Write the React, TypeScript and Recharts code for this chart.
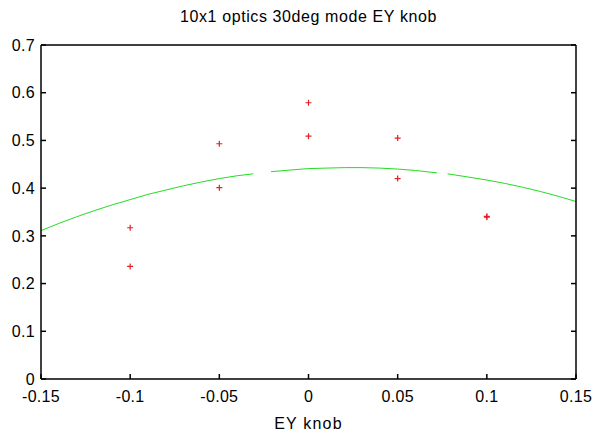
import React from 'react';
import { ComposedChart, Line, Scatter, XAxis, YAxis } from 'recharts';

// axis ticks
const xTicks = [-0.15, -0.1, -0.05, 0, 0.05, 0.1, 0.15];
const yTicks = [0, 0.1, 0.2, 0.3, 0.4, 0.5, 0.6, 0.7];

// measured points (red crosses)
const knobX = [-0.1, -0.1, -0.05, -0.05, 0, 0, 0.05, 0.05, 0.1, 0.1];
const knobY = [0.317, 0.236, 0.493, 0.401, 0.579, 0.509, 0.505, 0.42, 0.339, 0.341];

// fitted curve (green); nulls are the breaks in the line
const fitX = [-0.15, -0.14, -0.13, -0.12, -0.11, -0.1, -0.09, -0.08, -0.07, -0.06, -0.05, -0.04, -0.031, -0.026,
  -0.021, -0.01, 0, 0.01, 0.02, 0.03, 0.04, 0.05, 0.06, 0.072, 0.075, 0.078, 0.09, 0.1, 0.11, 0.12, 0.13, 0.14, 0.15];
const fitY = [0.311, 0.326, 0.34, 0.353, 0.365, 0.376, 0.387, 0.396, 0.405, 0.413, 0.42, 0.426, 0.43, null,
  0.4345, 0.438, 0.441, 0.442, 0.443, 0.443, 0.442, 0.44, 0.437, 0.432, null, 0.43, 0.423, 0.417, 0.41, 0.402, 0.393, 0.383, 0.372];

const points = knobX.map((x, i) => ({ x, y: knobY[i] }));
const curve = fitX.map((x, i) => ({ x, y: fitY[i] }));

const FONT = '"Liberation Sans", Arial, sans-serif';

const Cross = (props: any) => {
  const { cx, cy } = props;
  if (cx == null || cy == null) return <g />;
  return <path d={`M${cx - 3},${cy}h6M${cx},${cy - 3}v6`} stroke="#e41f26" strokeWidth={1.2} fill="none" />;
};

const NoLabel = () => <g />;

const App: React.FC = () => {
  return (
    <div style={{ position: 'absolute', left: 0, top: 0, width: 594, height: 433, background: '#fff', fontFamily: FONT }}>
      <div style={{ position: 'absolute', left: 31, width: 555, top: 8, textAlign: 'center', fontSize: 16, lineHeight: '18px', letterSpacing: 0.6, color: '#000' }}>
        10x1 optics 30deg mode EY knob
      </div>
      <ComposedChart width={594} height={433} margin={{ top: 44, right: 17, bottom: 0, left: 0 }}>
        <XAxis
          xAxisId={0}
          dataKey="x"
          type="number"
          domain={[-0.15, 0.15]}
          ticks={xTicks}
          allowDataOverflow
          height={54}
          tickSize={-5}
          tickMargin={17}
          axisLine={{ stroke: '#000', strokeWidth: 1.5 }}
          tickLine={{ stroke: '#000', strokeWidth: 1.5 }}
          tick={{ fill: '#000', fontSize: 16, fontFamily: FONT, letterSpacing: 0.3 }}
          label={{ value: 'EY knob', position: 'insideBottom', offset: 4, fill: '#000', fontSize: 16, fontFamily: FONT, letterSpacing: 1.2 }}
        />
        <XAxis
          xAxisId="top"
          orientation="top"
          type="number"
          domain={[-0.15, 0.15]}
          ticks={xTicks}
          allowDataOverflow
          height={1}
          tickSize={-5}
          tick={NoLabel}
          axisLine={{ stroke: '#000', strokeWidth: 1.5 }}
          tickLine={{ stroke: '#000', strokeWidth: 1.5 }}
        />
        <YAxis
          yAxisId={0}
          type="number"
          domain={[0, 0.7]}
          ticks={yTicks}
          allowDataOverflow
          width={41}
          tickSize={-5}
          tickMargin={11}
          axisLine={{ stroke: '#000', strokeWidth: 1.5 }}
          tickLine={{ stroke: '#000', strokeWidth: 1.5 }}
          tick={{ fill: '#000', fontSize: 16, fontFamily: FONT, letterSpacing: 0.3 }}
        />
        <YAxis
          yAxisId="right"
          orientation="right"
          type="number"
          domain={[0, 0.7]}
          ticks={yTicks}
          allowDataOverflow
          width={1}
          tickSize={-5}
          tick={NoLabel}
          axisLine={{ stroke: '#000', strokeWidth: 1.5 }}
          tickLine={{ stroke: '#000', strokeWidth: 1.5 }}
        />
        <Line
          data={curve}
          dataKey="y"
          xAxisId={0}
          yAxisId={0}
          type="linear"
          stroke="#22dd22"
          strokeWidth={1}
          dot={false}
          activeDot={false}
          connectNulls={false}
          isAnimationActive={false}
        />
        <Scatter
          data={points}
          dataKey="y"
          xAxisId={0}
          yAxisId={0}
          shape={<Cross />}
          isAnimationActive={false}
        />
      </ComposedChart>
    </div>
  );
};

export default App;
